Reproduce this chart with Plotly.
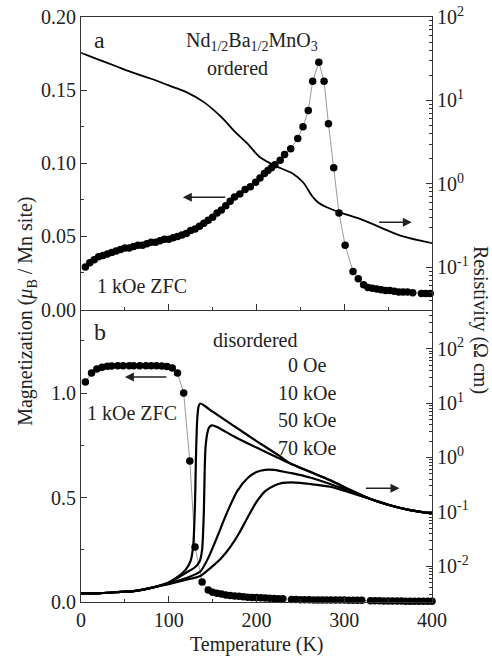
import plotly.graph_objects as go

# ---------------- data ----------------
# panel a: ordered, magnetization (1 kOe ZFC), mu_B / Mn site
T_ord_M = [5, 10, 15, 20, 25, 30, 35, 40, 45, 50, 55, 60, 65, 70, 75, 80, 85, 90, 95, 100,
           105, 110, 115, 120, 125, 130, 135, 140, 145, 150, 155, 160, 165, 170, 175, 181,
           187, 193, 199, 204, 209, 213, 217, 221, 227, 232, 239, 247, 253, 259, 264, 271,
           277, 282, 288, 294, 301, 310, 316, 322, 327, 332, 337, 342, 347, 352, 357, 362,
           367, 372, 378, 388, 393, 398]
M_ord = [0.029, 0.032, 0.034, 0.036, 0.037, 0.038, 0.039, 0.040, 0.041, 0.042, 0.042, 0.043,
         0.044, 0.044, 0.045, 0.046, 0.046, 0.047, 0.048, 0.048, 0.049, 0.050, 0.051, 0.052,
         0.054, 0.055, 0.057, 0.059, 0.061, 0.063, 0.066, 0.068, 0.071, 0.074, 0.077, 0.079,
         0.082, 0.084, 0.087, 0.090, 0.093, 0.095, 0.097, 0.099, 0.102, 0.106, 0.110, 0.117,
         0.125, 0.136, 0.156, 0.169, 0.156, 0.127, 0.097, 0.066, 0.044, 0.026, 0.021, 0.017,
         0.015, 0.0145, 0.014, 0.0135, 0.013, 0.013, 0.0125, 0.012, 0.012, 0.012, 0.0115,
         0.011, 0.011, 0.011]

# panel a: ordered, resistivity (log10 of Ohm cm)
T_ord_R = [0, 20, 40, 60, 80, 100, 120, 140, 160, 175, 190, 204, 227, 242, 253, 263, 270,
           280, 295, 318, 341, 364, 400]
logR_ord = [1.57, 1.49, 1.41, 1.33, 1.26, 1.18, 1.10, 0.98, 0.80, 0.63, 0.48, 0.32, 0.19,
            0.12, 0.02, -0.14, -0.22, -0.28, -0.34, -0.42, -0.52, -0.62, -0.71]

# panel b: disordered, magnetization (1 kOe ZFC)
T_dis_M = [5, 12, 18, 24, 30, 35, 42, 48, 55, 60, 67, 74, 80, 86, 92, 98, 104, 110, 117,
           124, 130, 138, 145, 150, 155, 160, 165, 170, 175, 180, 185, 190, 195, 200, 205,
           210, 215, 220, 225, 230, 240, 245, 250, 255, 260, 265, 270, 275, 280, 285, 290,
           295, 300, 305, 310, 315, 320, 330, 335, 340, 345, 350, 355, 360, 365, 370, 375,
           380, 385, 390, 395, 400]
M_dis = [1.053, 1.096, 1.115, 1.124, 1.128, 1.130, 1.131, 1.131, 1.131, 1.131, 1.131, 1.131,
         1.131, 1.131, 1.130, 1.127, 1.120, 1.096, 1.000, 0.675, 0.263, 0.096, 0.057, 0.047,
         0.042, 0.038, 0.034, 0.031, 0.029, 0.027, 0.025, 0.023, 0.022, 0.021, 0.020, 0.019,
         0.018, 0.017, 0.016, 0.015, 0.012, 0.012, 0.011, 0.011, 0.011, 0.010, 0.010, 0.010,
         0.010, 0.009, 0.009, 0.009, 0.009, 0.008, 0.008, 0.008, 0.008, 0.006, 0.006, 0.006,
         0.005, 0.005, 0.005, 0.005, 0.005, 0.004, 0.004, 0.004, 0.004, 0.004, 0.004, 0.004]

# panel b: disordered, resistivity (log10 of Ohm cm) in 0, 10, 50, 70 kOe
T_0 = [0, 20, 40, 60, 80, 100, 110, 120, 125, 128, 130, 131, 132, 133, 134, 136, 140, 150,
       175, 200, 225, 238, 261, 284, 307, 329, 352, 375, 400]
logR_0 = [-2.50, -2.50, -2.48, -2.46, -2.40, -2.30, -2.20, -2.05, -1.90, -1.60, -0.80, 0.00,
          0.55, 0.82, 0.94, 0.99, 0.96, 0.84, 0.57, 0.30, 0.04, -0.11, -0.265, -0.42, -0.60,
          -0.76, -0.88, -0.97, -1.03]
T_10 = [0, 20, 40, 60, 80, 100, 110, 120, 130, 135, 138, 140, 141, 142, 144, 146, 149, 155,
        175, 200, 225, 238, 261, 284, 307, 329, 352, 375, 400]
logR_10 = [-2.50, -2.50, -2.48, -2.46, -2.40, -2.30, -2.22, -2.12, -2.02, -1.92, -1.70,
           -1.00, -0.20, 0.20, 0.45, 0.55, 0.59, 0.56, 0.38, 0.18, -0.01, -0.11, -0.265, -0.42,
           -0.60, -0.76, -0.88, -0.97, -1.03]
T_50 = [0, 20, 40, 60, 80, 100, 120, 136, 145, 155, 166, 178, 190, 200, 210, 220, 230, 240,
        261, 284, 307, 329, 352, 375, 400]
logR_50 = [-2.50, -2.50, -2.48, -2.46, -2.40, -2.32, -2.22, -2.10, -1.85, -1.47, -1.03, -0.62,
           -0.38, -0.27, -0.23, -0.23, -0.26, -0.29, -0.37, -0.49, -0.63, -0.76, -0.88, -0.97,
           -1.03]
T_70 = [0, 20, 40, 60, 80, 100, 120, 136, 150, 160, 170, 180, 190, 200, 210, 220, 230, 240,
        250, 261, 284, 307, 329, 352, 375, 400]
logR_70 = [-2.50, -2.50, -2.48, -2.46, -2.40, -2.33, -2.25, -2.18, -2.00, -1.85, -1.65, -1.40,
           -1.10, -0.82, -0.62, -0.52, -0.47, -0.46, -0.47, -0.49, -0.54, -0.65, -0.76, -0.88,
           -0.97, -1.03]

field_labels = ["0 Oe", "10 kOe", "50 kOe", "70 kOe"]

# ---------------- figure ----------------
FONT = "Liberation Serif, Times New Roman, DejaVu Serif, serif"
AX = "#333333"
fig = go.Figure()

dot = dict(color="black", size=7.5)
fig.add_trace(go.Scatter(x=T_ord_M, y=M_ord, xaxis="x2", yaxis="y3", mode="lines+markers",
                         line=dict(color="#9a9a9a", width=1), marker=dot, cliponaxis=False))
fig.add_trace(go.Scatter(x=T_ord_R, y=[10 ** v for v in logR_ord], xaxis="x2", yaxis="y4",
                         mode="lines", line=dict(color="black", width=1.8, shape="spline")))
fig.add_trace(go.Scatter(x=T_dis_M, y=M_dis, xaxis="x", yaxis="y", mode="lines+markers",
                         line=dict(color="#9a9a9a", width=1), marker=dot, cliponaxis=False))
for Tv, Lv in [(T_0, logR_0), (T_10, logR_10), (T_50, logR_50), (T_70, logR_70)]:
    fig.add_trace(go.Scatter(x=Tv, y=[10 ** v for v in Lv], xaxis="x", yaxis="y2",
                             mode="lines", line=dict(color="black", width=2.2, shape="spline",
                                                      smoothing=0.6)))

tickfont = dict(family=FONT, size=20, color="#222")
common = dict(showline=True, linecolor=AX, linewidth=1, ticks="inside", tickcolor=AX,
              ticklen=6, tickwidth=1, showgrid=False, zeroline=False, tickfont=tickfont,
              automargin=False)

def logminor(lo, hi):
    vals = []
    for e in range(lo, hi + 1):
        for m in range(2, 10):
            vals.append(m * 10 ** e)
    return dict(tickmode="array", tickvals=vals, ticks="inside", ticklen=3, tickcolor=AX,
                showgrid=False)

fig.update_layout(
    width=492, height=656, autosize=False,
    margin=dict(l=81, r=60, t=17, b=54, autoexpand=False),
    paper_bgcolor="white", plot_bgcolor="white", showlegend=False,
    font=dict(family=FONT, size=20, color="#222"),
    xaxis=dict(domain=[0, 1], anchor="y", range=[0, 400], dtick=100,
               minor=dict(dtick=50, ticks="inside", ticklen=3, tickcolor=AX), **common),
    xaxis2=dict(domain=[0, 1], anchor="y3", range=[0, 400], dtick=100, matches="x",
                showticklabels=False, mirror=True,
                minor=dict(dtick=50, ticks="inside", ticklen=3, tickcolor=AX), **common),
    yaxis=dict(domain=[0, 0.5], anchor="x", range=[0, 1.4], dtick=0.5, tickformat=".1f",
               minor=dict(dtick=0.25, ticks="inside", ticklen=3, tickcolor=AX), **common),
    yaxis2=dict(anchor="x", overlaying="y", side="right", type="log", range=[-2.66, 2.72],
                tickmode="array", tickvals=[0.01, 0.1, 1, 10, 100],
                ticktext=["10<sup>-2</sup>", "10<sup>-1</sup>", "10<sup>0</sup>",
                          "10<sup>1</sup>", "10<sup>2</sup>"],
                minor=logminor(-3, 2), **common),
    yaxis3=dict(domain=[0.5, 1], anchor="x2", range=[0, 0.2], dtick=0.05, tickformat=".2f",
                minor=dict(dtick=0.025, ticks="inside", ticklen=3, tickcolor=AX), **common),
    yaxis4=dict(anchor="x2", overlaying="y3", side="right", type="log", range=[-1.505, 2],
                tickmode="array", tickvals=[0.1, 1, 10, 100],
                ticktext=["10<sup>-1</sup>", "10<sup>0</sup>", "10<sup>1</sup>",
                          "10<sup>2</sup>"],
                minor=logminor(-2, 2), **common),
)

def txt(x, y, s, xref, yref, size=20, xanchor="center"):
    fig.add_annotation(x=x, y=y, xref=xref, yref=yref, text=s, showarrow=False,
                       font=dict(family=FONT, size=size, color="#222"), xanchor=xanchor,
                       yanchor="middle")

def arrow(x_head, x_tail, y, xref, yref):
    fig.add_annotation(x=x_head, y=y, ax=x_tail, ay=y, xref=xref, yref=yref, axref=xref,
                       ayref=yref, text="", showarrow=True, arrowhead=2, arrowsize=1.2,
                       arrowwidth=1.5, arrowcolor="#222")

# panel a texts
txt(12, 0.184, "a", "x2", "y3", size=24, xanchor="left")
txt(195, 0.183, "Nd<sub>1/2</sub>Ba<sub>1/2</sub>MnO<sub>3</sub>", "x2", "y3")
txt(178, 0.165, "ordered", "x2", "y3")
txt(69, 0.0164, "1 kOe ZFC", "x2", "y3")
arrow(116, 166, 0.0767, "x2", "y3")
arrow(377, 338, 0.0596, "x2", "y3")

# panel b texts
txt(12, 1.29, "b", "x", "y", size=24, xanchor="left")
txt(198, 1.254, "disordered", "x", "y")
for lab, yv in zip(field_labels, [1.135, 1.0, 0.871, 0.737]):
    txt(257, yv, lab, "x", "y")
txt(58, 0.904, "1 kOe ZFC", "x", "y")
arrow(50, 99, 1.077, "x", "y")
arrow(363, 323, 0.545, "x", "y")

# axis titles
fig.add_annotation(x=0.5, y=-0.073, xref="paper", yref="paper", text="Temperature (K)",
                   showarrow=False, font=dict(family=FONT, size=20, color="#222"),
                   xanchor="center", yanchor="middle")
fig.add_annotation(x=-0.155, y=0.497, xref="paper", yref="paper",
                   text="Magnetization (<i>μ</i><sub>B</sub> / Mn site)", textangle=-90,
                   showarrow=False, font=dict(family=FONT, size=20, color="#222"),
                   xanchor="center", yanchor="middle")
fig.add_annotation(x=1.14, y=0.482, xref="paper", yref="paper",
                   text="Resistivity (Ω cm)", textangle=90,
                   showarrow=False, font=dict(family=FONT, size=20, color="#222"),
                   xanchor="center", yanchor="middle")

fig.write_html("out.html", config={"displayModeBar": False},
               post_script="document.body.style.margin='0';document.body.style.overflow='hidden';")
